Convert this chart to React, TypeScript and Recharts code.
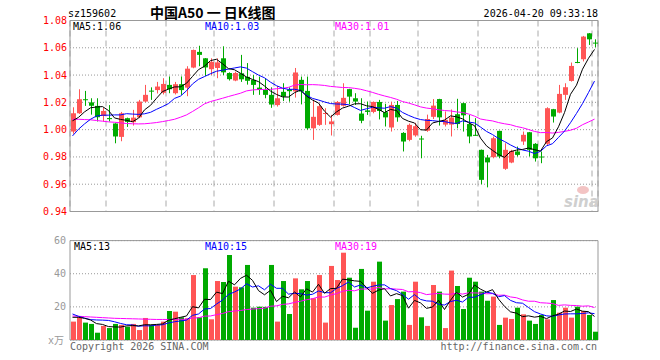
import React from 'react';
import { ComposedChart, Bar, Line, XAxis, YAxis, CartesianGrid, ReferenceArea } from 'recharts';

const openP = [0.9986,1.012,1.0223,1.02,1.0174,1.01,1.0085,1.0045,0.9947,1.0084,1.0055,1.009,1.0206,1.0286,1.029,1.027,1.0328,1.0267,1.0333,1.0308,1.0455,1.057,1.0523,1.0443,1.0452,1.0523,1.0415,1.036,1.0413,1.0387,1.0365,1.0308,1.0291,1.0255,1.018,1.0277,1.0295,1.028,1.0365,1.0284,1.001,1.0035,1.012,1.004,1.0108,1.0175,1.0297,1.023,1.0118,1.0141,1.013,1.0203,1.0128,1.0016,1.0181,0.9976,0.9925,0.9958,0.9935,0.9992,1.0094,1.0224,1.0037,1.0037,1.0113,1.0194,1.0041,0.9962,0.9852,0.9796,0.9798,0.9991,0.9713,0.9759,0.984,0.9913,0.9981,0.9896,0.9803,0.9896,1.015,1.0125,1.0255,1.0357,1.0496,1.0516,1.0706,1.0638];
const highP = [1.0164,1.0296,1.0284,1.023,1.023,1.016,1.018,1.0047,1.013,1.0088,1.0145,1.0218,1.0328,1.031,1.035,1.0377,1.039,1.035,1.039,1.0465,1.0587,1.0615,1.0525,1.0523,1.0523,1.0611,1.042,1.0425,1.0548,1.0488,1.04,1.0389,1.0377,1.031,1.032,1.034,1.031,1.0452,1.0389,1.0389,1.022,1.019,1.0157,1.0108,1.021,1.034,1.0299,1.0267,1.023,1.0206,1.0206,1.0218,1.019,1.0205,1.021,0.9982,1.0045,1.005,0.9955,1.011,1.0224,1.0226,1.0133,1.0148,1.0226,1.0198,1.0108,1.0084,0.9854,0.9815,0.9949,0.9993,0.99,0.9852,0.9876,0.9986,0.9983,0.9901,0.984,1.0164,1.0152,1.0328,1.034,1.0492,1.0597,1.0687,1.0708,1.0662];
const lowP = [0.997,1.0115,1.0174,1.011,1.006,1.006,1.006,0.99,0.9915,1.002,1.003,1.0084,1.02,1.0218,1.0265,1.0258,1.0267,1.0258,1.0255,1.0245,1.045,1.0465,1.0393,1.04,1.0377,1.04,1.036,1.0355,1.035,1.033,1.0255,1.0255,1.023,1.016,1.0169,1.021,1.0205,1.0235,1.0185,1.0,0.9925,1.0028,1.0035,0.9957,1.0103,1.0169,1.0186,1.0181,1.0047,1.0108,1.012,1.0075,1.0023,0.9986,1.0058,0.984,0.9915,0.9948,0.979,0.9984,1.0078,1.003,1.0023,0.995,1.001,0.9986,0.99,0.9955,0.96,0.9577,0.979,0.979,0.9705,0.9754,0.9803,0.9888,0.9803,0.9766,0.9754,0.9888,1.0052,1.012,1.0218,1.0352,1.0487,1.05,1.0621,1.0604];
const closeP = [1.012,1.0223,1.0221,1.0175,1.0091,1.0137,1.0077,0.995,1.012,1.0057,1.0088,1.0206,1.0255,1.0284,1.0316,1.0335,1.0296,1.0333,1.029,1.0447,1.0584,1.0548,1.0456,1.0497,1.0493,1.042,1.037,1.0415,1.0369,1.0358,1.0328,1.0291,1.0255,1.0184,1.023,1.0242,1.0282,1.0419,1.0279,1.001,1.0094,1.0172,1.0122,1.006,1.0203,1.0233,1.0242,1.0206,1.0065,1.013,1.0203,1.0137,1.009,1.0181,1.009,0.9913,1.0035,1.0025,0.9932,1.0078,1.0176,1.009,1.0072,1.0089,1.0041,1.0105,0.995,0.996,0.9632,0.976,0.9937,0.9803,0.9852,0.9844,0.9815,0.9962,0.9852,0.979,0.9798,1.0157,1.0096,1.0262,1.0311,1.0467,1.0493,1.0682,1.0662,1.0636];

const priceMA5 = [1.0065,1.009,1.013,1.016,1.0166,1.0169,1.014,1.0086,1.0075,1.0068,1.0058,1.0084,1.0145,1.0178,1.023,1.0279,1.0297,1.0313,1.0314,1.034,1.039,1.044,1.0465,1.0506,1.0516,1.0483,1.0447,1.0439,1.0413,1.0386,1.0368,1.0352,1.032,1.0283,1.0258,1.024,1.0239,1.0271,1.029,1.0246,1.0217,1.0195,1.0135,1.0092,1.013,1.0158,1.0172,1.0189,1.019,1.0175,1.0169,1.0148,1.0125,1.0148,1.014,1.0082,1.0062,1.0049,0.9999,0.9997,1.0049,1.006,1.007,1.0101,1.0094,1.0079,1.0051,1.0029,0.9938,0.9881,0.9848,0.9818,0.9797,0.9839,0.985,0.9855,0.9865,0.9853,0.9843,0.9912,0.9939,1.0021,1.0125,1.0259,1.0326,1.0443,1.0523,1.0588];
const priceMA10 = [0.9954,1.0003,1.0042,1.0076,1.01,1.0106,1.0106,1.0108,1.0108,1.0117,1.0114,1.0112,1.0116,1.0127,1.0149,1.0169,1.0191,1.0229,1.0246,1.0285,1.0335,1.0369,1.0389,1.041,1.0428,1.0436,1.0444,1.0452,1.046,1.0451,1.0425,1.04,1.038,1.0348,1.0322,1.0304,1.0295,1.0296,1.0287,1.0252,1.0229,1.0217,1.0203,1.0191,1.0188,1.0187,1.0183,1.0162,1.0141,1.0153,1.0164,1.016,1.0157,1.0169,1.0158,1.0126,1.0105,1.0087,1.0074,1.0068,1.0066,1.0061,1.0059,1.005,1.0045,1.0064,1.0056,1.0049,1.0019,0.9987,0.9964,0.9935,0.9913,0.9888,0.9866,0.9851,0.9842,0.9825,0.9841,0.9881,0.9897,0.9943,0.9989,1.0051,1.0119,1.0191,1.0272,1.0356];
const priceMA30 = [1.0076,1.0076,1.0074,1.0072,1.0067,1.0062,1.0057,1.0054,1.005,1.0045,1.0043,1.0042,1.0043,1.0047,1.0052,1.0059,1.0067,1.0076,1.0091,1.0108,1.0133,1.016,1.0189,1.0206,1.0218,1.023,1.0243,1.0255,1.0267,1.0284,1.0291,1.0294,1.0295,1.0295,1.03,1.0303,1.031,1.0326,1.0331,1.0329,1.033,1.0328,1.0324,1.0317,1.0313,1.0309,1.0308,1.0303,1.0296,1.0285,1.0273,1.0259,1.0247,1.0236,1.0223,1.0206,1.0195,1.0182,1.0167,1.0158,1.0153,1.0146,1.014,1.0137,1.013,1.0126,1.0115,1.0099,1.0078,1.007,1.0064,1.0052,1.0043,1.0036,1.0023,1.0014,1.0001,0.9987,0.9978,0.9979,0.9975,0.998,0.9987,0.9996,1.001,1.0036,1.0056,1.0077];

const volume = [11.1,13.7,10.5,9.7,4.4,8.5,7.2,9.7,9.1,8.0,9.7,6.0,13.3,9.1,9.1,11.1,17.5,17.1,13.7,13.1,39.2,13.7,43.3,12.5,35.6,35.0,51.3,32.2,31.8,45.3,19.5,20.1,20.0,45.3,11.1,35.6,15.7,37.2,30.6,35.6,25.2,39.2,10.5,44.7,36.2,52.7,37.6,7.4,42.9,17.7,35.2,47.3,11.7,21.1,24.7,29.2,9.1,35.2,13.7,8.5,33.2,29.2,7.2,41.9,32.6,18.7,37.6,35.2,29.2,23.7,26.2,9.1,13.5,12.7,19.5,15.5,11.7,9.7,15.1,12.5,24.1,16.5,19.5,13.5,20.1,17.5,15.1,5.0];
const volMA5 = [13.7,13.7,13.1,12.1,9.9,9.4,8.1,7.9,7.8,8.5,8.7,8.5,9.2,9.2,9.4,9.7,12.0,12.8,13.7,14.5,20.1,19.4,24.6,24.4,28.9,28.0,35.5,33.3,37.2,39.1,36.0,29.8,27.3,30.0,23.2,26.4,25.5,29.0,26.0,30.9,28.9,33.6,28.2,31.0,31.2,36.7,36.3,35.7,35.4,31.7,28.2,30.1,31.0,26.6,28.0,26.8,19.2,23.9,22.4,19.1,19.9,24.0,18.4,24.0,28.8,25.9,27.6,33.2,30.7,28.9,30.4,24.7,20.3,17.0,16.2,14.1,14.6,13.8,14.3,12.9,14.6,15.6,17.5,17.2,18.7,17.4,17.1,14.2];
const volMA10 = [15.7,14.3,13.2,12.3,12.1,12.0,11.8,11.0,10.0,9.2,9.1,8.3,8.6,8.5,9.0,9.2,10.3,11.0,11.5,12.0,14.9,15.7,18.7,19.0,21.7,24.1,27.5,29.0,30.8,34.0,32.0,32.7,30.3,33.6,31.2,31.2,27.7,28.2,28.0,27.1,27.6,29.6,28.6,28.5,31.1,32.8,35.0,32.0,33.2,31.4,32.4,33.2,33.3,31.0,29.8,27.5,24.6,27.4,24.5,23.6,23.4,21.6,21.1,23.2,24.0,22.9,25.8,25.8,27.3,28.9,28.2,26.1,26.8,23.9,22.5,22.2,19.6,17.1,15.7,14.6,14.3,15.1,15.7,15.8,15.8,16.0,16.4,15.9];
const volMA30 = [14.5,14.3,14.1,13.9,13.7,13.5,13.3,13.1,13.0,12.9,12.8,12.7,12.6,12.5,12.4,12.4,12.4,12.5,12.5,12.5,13.3,13.4,14.4,14.5,15.3,16.0,17.1,17.5,17.8,18.4,18.7,18.9,19.2,20.4,20.6,21.5,21.8,22.7,23.4,24.3,24.9,26.0,25.9,27.1,28.0,29.4,30.0,29.7,30.7,30.8,30.7,31.8,30.8,31.0,30.7,30.5,29.1,29.2,28.6,27.4,27.8,28.1,27.7,27.6,28.3,27.7,28.5,28.4,28.3,27.9,28.0,27.0,27.1,26.0,25.5,24.2,23.4,23.4,22.5,22.3,22.0,20.9,21.2,20.9,20.8,20.4,20.6,19.6];

const dateTickIndex = [6, 16, 24, 34, 44, 50, 58, 68, 78, 87];
const dateTickLabels = ['2025-12-15', '12-29', '2026-01-12', '01-26', '02-09', '02-25', '03-09', '03-23', '04-07', '04-20'];
const priceTicks = [0.94, 0.96, 0.98, 1.0, 1.02, 1.04, 1.06, 1.08];
const volTicks = [20, 40, 60];

const RED = '#ff5555';
const GREEN = '#00aa00';
const MONO = '"DejaVu Sans Mono", monospace';
const N = closeP.length;

const data = closeP.map((c, i) => ({
  i,
  pos: i + 2.5 / 6,
  o: openP[i],
  h: highP[i],
  l: lowP[i],
  c,
  up: c >= openP[i],
  ma5: priceMA5[i],
  ma10: priceMA10[i],
  ma30: priceMA30[i],
  vol: volume[i],
  vma5: volMA5[i],
  vma10: volMA10[i],
  vma30: volMA30[i],
}));

const labelOf = (v: number) => {
  const k = dateTickIndex.indexOf(v);
  return k >= 0 ? dateTickLabels[k] : '';
};

const Candle = (props: any) => {
  const { x, y, height, payload } = props;
  if (!payload) return null;
  const { o, h, l, c, up } = payload;
  const color = up ? RED : GREEN;
  const range = h - l;
  const hh = Math.abs(height);
  const top = height < 0 ? y + height : y;
  const ratio = range > 0 ? hh / range : 0;
  const bx = Math.floor(x);
  const cx = bx + 2.5;
  const yTop = top + (h - Math.max(o, c)) * ratio;
  const yBot = top + (h - Math.min(o, c)) * ratio;
  const bh = Math.max(1, yBot - yTop);
  return (
    <g>
      <line x1={cx} x2={cx} y1={top} y2={top + hh} stroke={color} strokeWidth={1} />
      <rect x={bx} y={yTop} width={5} height={bh} fill={color} />
    </g>
  );
};

const VolBar = (props: any) => {
  const { x, y, height, payload } = props;
  if (!payload) return null;
  const color = payload.up ? RED : GREEN;
  return <rect x={Math.floor(x)} y={y} width={5} height={Math.max(0, height)} fill={color} />;
};

const gridX = (p: any) => {
  const ax = p && p.xAxis;
  if (!ax || typeof ax.scale !== 'function') return [];
  return dateTickIndex.map((t) => ax.scale(t));
};

export default function App() {
  return (
    <div style={{ position: 'absolute', left: 0, top: 0, width: 660, height: 360, background: '#fff', overflow: 'hidden' }}>
      <div style={{ position: 'absolute', left: 0, top: 0, width: 660, height: 230 }}>
        <ComposedChart width={660} height={230} data={data} margin={{ top: 20.5, right: 62, left: 0, bottom: 0 }}>
          <XAxis xAxisId="cat" dataKey="i" type="category" hide />
          <XAxis
            xAxisId="num"
            dataKey="pos"
            type="number"
            domain={[0, N]}
            allowDataOverflow
            ticks={dateTickIndex}
            interval={0}
            tickFormatter={labelOf}
            axisLine={false}
            tickLine={false}
            tickSize={0}
            tickMargin={5}
            height={18.5}
            tick={{ fill: '#1a7fd4', fontSize: 10, fontFamily: MONO }}
          />
          <YAxis
            domain={[0.94, 1.08]}
            allowDataOverflow
            ticks={priceTicks}
            interval={0}
            tickFormatter={(v: number) => v.toFixed(2)}
            axisLine={false}
            tickLine={false}
            tickSize={0}
            tickMargin={3}
            width={70}
            tick={{ fill: '#ff0000', fontSize: 10, fontFamily: MONO }}
          />
          <CartesianGrid xAxisId="num" vertical={false} stroke="#999" strokeDasharray="1 2" />
          <CartesianGrid xAxisId="num" horizontal={false} stroke="#aaa" strokeDasharray="6 4" />
          <ReferenceArea xAxisId="num" x1={0} x2={N} y1={0.94} y2={1.08} fill="none" stroke="#999" strokeWidth={1} ifOverflow="visible" />
          <Bar xAxisId="cat" dataKey={(d: any) => [d.l, d.h]} barSize={5} shape={<Candle />} isAnimationActive={false} />
          <Line xAxisId="num" dataKey="ma30" stroke="#ff00ff" strokeWidth={1} dot={false} isAnimationActive={false} />
          <Line xAxisId="num" dataKey="ma10" stroke="#0000ff" strokeWidth={1} dot={false} isAnimationActive={false} />
          <Line xAxisId="num" dataKey="ma5" stroke="#000000" strokeWidth={1} dot={false} isAnimationActive={false} />
        </ComposedChart>
      </div>
      <div style={{ position: 'absolute', left: 0, top: 230, width: 660, height: 130 }}>
        <ComposedChart width={660} height={130} data={data} margin={{ top: 10.6, right: 62, left: 0, bottom: 20 }}>
          <XAxis xAxisId="cat" dataKey="i" type="category" hide />
          <XAxis
            xAxisId="num"
            dataKey="pos"
            type="number"
            domain={[0, N]}
            allowDataOverflow
            ticks={dateTickIndex}
            interval={0}
            hide
          />
          <YAxis
            domain={[0, 60]}
            allowDataOverflow
            ticks={volTicks}
            interval={0}
            axisLine={false}
            tickLine={false}
            tickSize={0}
            tickMargin={4}
            width={70}
            tick={{ fill: '#999', fontSize: 10, fontFamily: MONO }}
          />
          <CartesianGrid xAxisId="num" vertical={false} stroke="#999" strokeDasharray="1 2" />
          <CartesianGrid xAxisId="num" horizontal={false} stroke="#aaa" strokeDasharray="6 4" verticalCoordinatesGenerator={gridX} />
          <ReferenceArea xAxisId="num" x1={0} x2={N} y1={0} y2={60} fill="none" stroke="#999" strokeWidth={1} ifOverflow="visible" />
          <Bar xAxisId="cat" dataKey="vol" barSize={5} shape={<VolBar />} isAnimationActive={false} />
          <Line xAxisId="num" dataKey="vma30" stroke="#ff00ff" strokeWidth={1} dot={false} isAnimationActive={false} />
          <Line xAxisId="num" dataKey="vma10" stroke="#0000ff" strokeWidth={1} dot={false} isAnimationActive={false} />
          <Line xAxisId="num" dataKey="vma5" stroke="#000000" strokeWidth={1} dot={false} isAnimationActive={false} />
        </ComposedChart>
      </div>
      <svg width={660} height={360} style={{ position: 'absolute', left: 0, top: 0, pointerEvents: 'none' }}>
        <text x={68} y={17} fontSize={10} fontFamily={MONO} fill="#000">sz159602</text>
        <text x={150} y={18} fontSize={14} fontWeight="bold" fontFamily='"Noto Sans CJK SC", sans-serif' fill="#000">中国A50 一 日K线图</text>
        <text x={598} y={17} fontSize={10} fontFamily={MONO} fill="#000" textAnchor="end">2026-04-20 09:33:18</text>
        <text x={73} y={30} fontSize={10} fontFamily={MONO} fill="#000">MA5:1.06</text>
        <text x={205} y={30} fontSize={10} fontFamily={MONO} fill="#0000ff">MA10:1.03</text>
        <text x={335} y={30} fontSize={10} fontFamily={MONO} fill="#ff00ff">MA30:1.01</text>
        <text x={74} y={250} fontSize={10} fontFamily={MONO} fill="#000">MA5:13</text>
        <text x={205} y={250} fontSize={10} fontFamily={MONO} fill="#0000ff">MA10:15</text>
        <text x={335} y={250} fontSize={10} fontFamily={MONO} fill="#ff00ff">MA30:19</text>
        <text x={48} y={344} fontSize={10} fontFamily='"DejaVu Sans Mono", "Noto Sans CJK SC", monospace' fill="#999">x万</text>
        <text x={70} y={350} fontSize={10} fontFamily={MONO} fill="#666">Copyright 2026 SINA.COM</text>
        <text x={597} y={350} fontSize={10} fontFamily={MONO} fill="#666" textAnchor="end">http://finance.sina.com.cn</text>
        <ellipse cx={583} cy={190} rx={6} ry={4} fill="#f3c4c4" />
        <text x={564} y={207} fontSize={15} fontStyle="italic" fontWeight="bold" fontFamily='"DejaVu Sans", sans-serif' fill="#cfcfcf">sina</text>
      </svg>
    </div>
  );
}
